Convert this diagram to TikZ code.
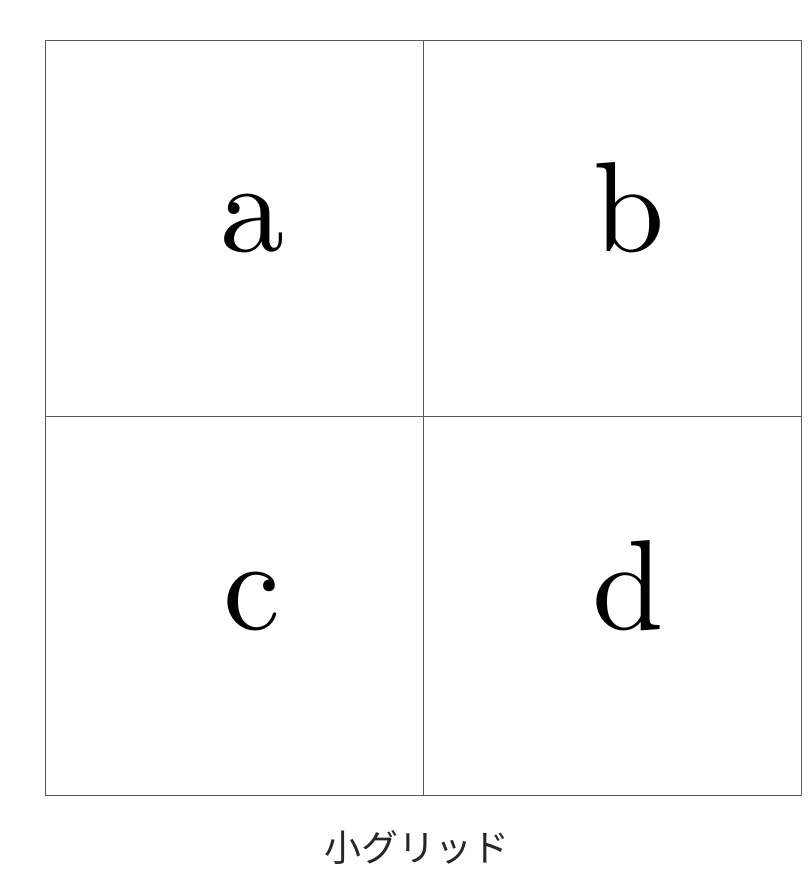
\documentclass[tikz,border=0pt]{standalone}
\usepackage{fontspec}
\newfontfamily\cjk{Noto Sans CJK JP}
\usetikzlibrary{positioning}

\begin{document}
\begin{tikzpicture}[
        x=0.02cm, y=-0.02cm,
        cellline/.style={draw=black!65, line width=0.5pt},
        letter/.style={anchor=base, inner sep=0pt, font=\fontsize{10}{12}\selectfont, scale=7.3, transform shape},
        caption/.style={inner sep=0pt, font=\cjk\fontsize{21}{25}\selectfont, text=black!85}
    ]
        \useasboundingbox (0,0) rectangle (810,891);

        \coordinate (nw) at (45,40);
        \coordinate (se) at (801,795);
        \coordinate (top) at (423,40);
        \coordinate (bot) at (423,795);
        \coordinate (left) at (45,416);
        \coordinate (right) at (801,416);

        \draw[cellline] (nw) rectangle (se);
        \draw[cellline] (top) -- (bot);
        \draw[cellline] (left) -- (right);

        \node[letter] (a) at (253,252) {a};
        \node[letter] (b) at (629,252) {b};
        \node[letter] (c) at (252,629) {c};
        \node[letter] (d) at (628,629) {d};

        \node[caption] (title) at (417,847) {小グリッド};
    \end{tikzpicture}
\end{document}
